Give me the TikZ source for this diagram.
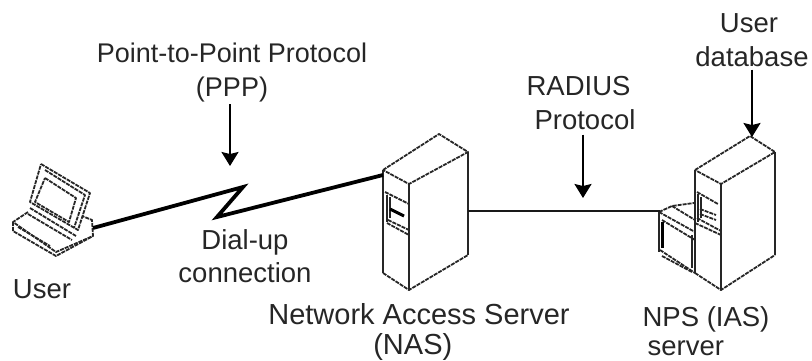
\documentclass[tikz,border=0pt]{standalone}
\usepackage{fontspec}
\setmainfont{Liberation Sans}
\usetikzlibrary{arrows.meta}
\tikzset{
 lbl/.style={inner sep=0pt,font=\fontsize{27.5pt}{33.5pt}\selectfont,text=black!85},
 thin line/.style={draw=black!85,line width=1.9pt,line join=round},
 fine line/.style={draw=black!85,line width=1.4pt},
 dash line/.style={draw=black!85,line width=1.8pt,dash pattern=on 4pt off 1pt,line join=round},
 heavy/.style={draw=black,line width=3.8pt,line join=miter},
 link/.style={draw=black!90,line width=2pt},
 pointer/.style={draw=black,line width=2pt,-{Stealth[length=14pt,width=17pt,inset=2pt]}},
}
\begin{document}
\begin{tikzpicture}[x=1pt,y=-1pt]
\useasboundingbox (0,0) rectangle (812,360);
% labels
\node[lbl,align=center,font=\fontsize{27pt}{33.5pt}\selectfont] (ppp) at (232,72.5) {Point-to-Point Protocol\\(PPP)};
\node[lbl,align=left] (radius) at (581,103) {RADIUS\\\hspace*{8pt}Protocol};
\node[lbl,align=center] (db) at (752,40) {User\hspace*{6pt}\\database};
\node[lbl,align=center] (dial) at (245,256) {Dial-up\\connection};
\node[lbl] (user) at (42,289) {User};
\node[lbl,align=left,font=\fontsize{29pt}{30pt}\selectfont] (nas) at (419,332) {Network Access Server\\\hspace*{105pt}(NAS)};
\node[lbl,align=left,font=\fontsize{27.5pt}{29pt}\selectfont] (npslbl) at (706,331) {NPS (IAS)\\\hspace*{5pt}server};
% laptop
\draw[dash line] (41,164) -- (90,193) -- (78,230) -- (30,202) -- cycle;
\draw[dash line] (45,170) -- (85,195) -- (74,228);
\draw[dash line] (45,178) -- (76,198) -- (69,222) -- (35,202) -- cycle;
\draw[dash line] (28,212) -- (13,222) -- (56,252) -- (93,236) -- (92,220) -- (82,216);
\draw[dash line] (13,222) -- (13,231) -- (56,256) -- (93,236);
\draw[dash line] (30,208) -- (76,236);
\draw[dash line] (28,214) -- (72,240);
\draw[dash line] (18,227) -- (50,246);
% NAS
\draw[dash line] (383,170) -- (439,134) -- (468,152) -- (409,184) -- cycle;
\draw[dash line] (383,273) -- (409,290) -- (468,255);
\draw[thin line] (383,170) -- (383,273);
\draw[thin line] (409,184) -- (409,290);
\draw[thin line] (468,152) -- (468,255);
\draw[dash line] (385,192) -- (409,204);
\draw[dash line] (387,223) -- (409,235);
\draw[dash line] (388,220) -- (409,230);
\draw[fine line] (387,195) -- (387,222);
\draw[fine line] (390,197) -- (390,218);
\draw[draw=black,line width=3pt] (390,209) -- (404,216);
% NPS
\draw[dash line] (695,170) -- (750,136) -- (775,152) -- (721,184) -- cycle;
\draw[dash line] (695,273) -- (721,290) -- (775,255);
\draw[thin line] (695,170) -- (695,273);
\draw[thin line] (721,184) -- (721,290);
\draw[thin line] (775,152) -- (775,255);
\draw[dash line] (697,192) -- (718,204);
\draw[dash line] (700,209) -- (716,215);
\draw[dash line] (700,214) -- (716,220);
\draw[dash line] (695,223) -- (721,235);
\draw[dash line] (697,218) -- (721,231);
\draw[fine line] (698,194) -- (698,222);
\draw[fine line] (701,197) -- (701,218);
% monitor
\draw[dash line] (659,212) -- (672,206) -- (694,203);
\draw[dash line] (659,212) -- (695,232);
\draw[dash line] (672,206) -- (695,220);
\draw[dash line] (662,220) -- (695,240);
\draw[dash line] (660,250) -- (695,273);
\draw[dash line] (662,256) -- (692,272);
\draw[thin line] (659,212) -- (659,252);
\draw[draw=black,line width=3pt] (662,222) -- (662,248);
\draw[thin line] (692,235) -- (692,268);
\coordinate (nasport) at (468,211);
\coordinate (npsport) at (660,211);
\coordinate (lapport) at (93,228);
\coordinate (nasin) at (383,175);
\coordinate (pppend) at (230,166);
\coordinate (radend) at (583,198);
\coordinate (dbend) at (752,137);
\draw[link] (nasport) -- (npsport);
\draw[heavy] (lapport) -- (243,187) -- (217,217) -- (nasin);
\draw[pointer] (ppp.south -| pppend) ++(0,2) -- (pppend);
\draw[pointer] (radius.south -| radend) ++(0,5) -- (radend);
\draw[pointer] (db.south -| dbend) ++(0,3) -- (dbend);
\end{tikzpicture}
\end{document}
